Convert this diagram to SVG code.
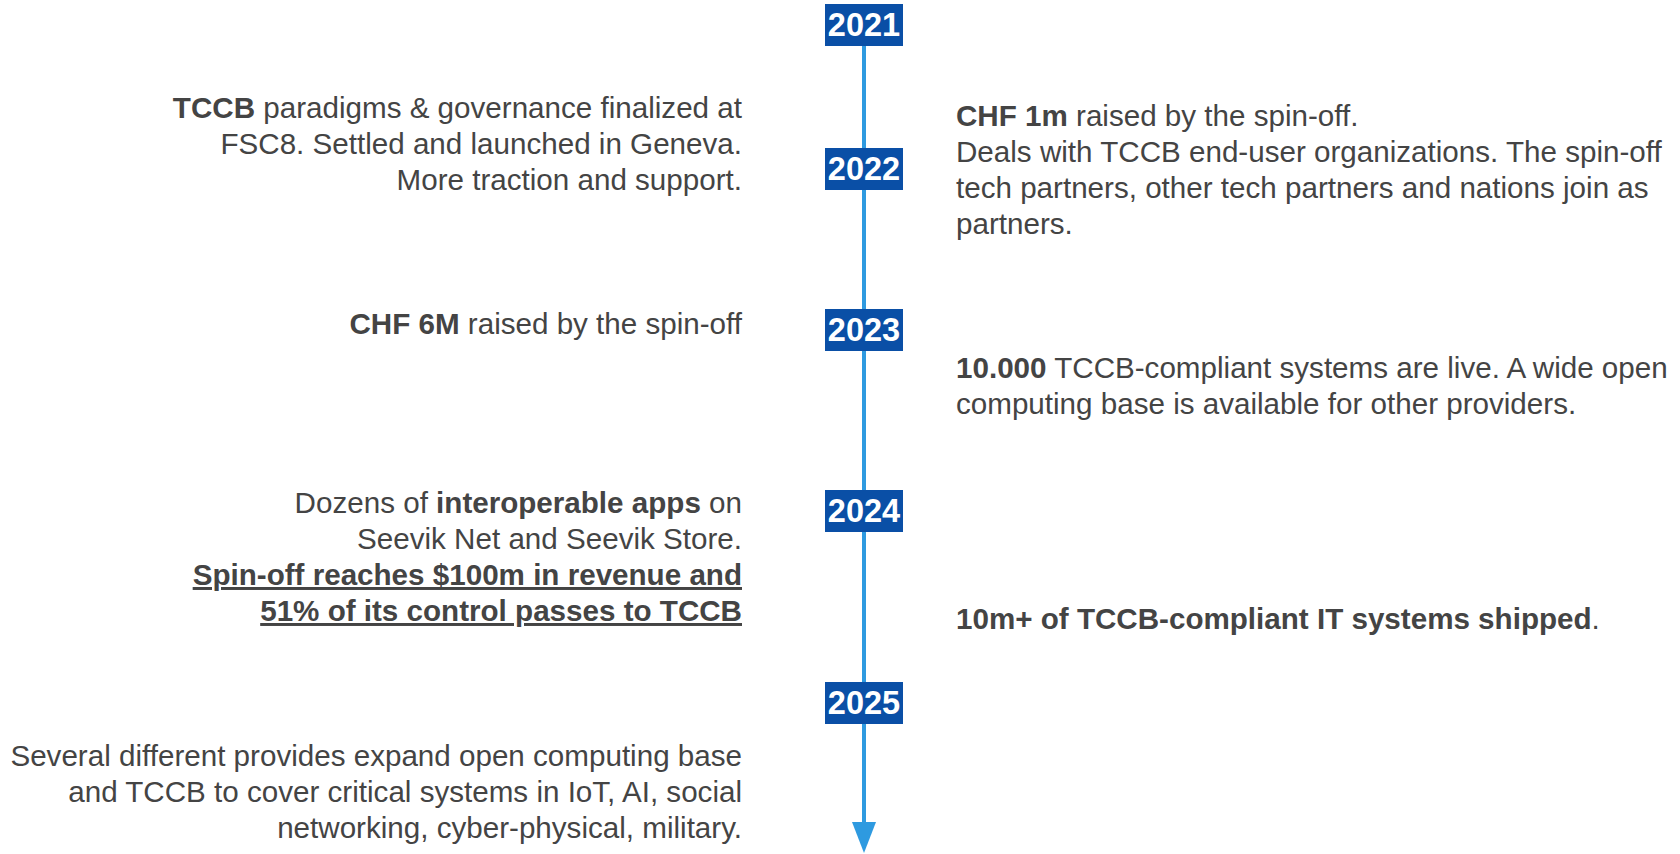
<svg xmlns="http://www.w3.org/2000/svg" width="1680" height="854" viewBox="0 0 1680 854">
  <style>
    .txt { font-family: "Liberation Sans", Arial, Helvetica, sans-serif; font-size: 29.6px; fill: #444444; }
    .l { text-anchor: end; }
    .b { font-weight: bold; }
    .u { text-decoration: underline; }
    .yr rect { fill: #0A4FA6; }
    .yr text { font-family: "Liberation Sans", Arial, Helvetica, sans-serif; font-size: 32.5px; font-weight: bold; fill: #ffffff; text-anchor: middle; }
  </style>
  <rect width="1680" height="854" fill="#ffffff"/>

  <!-- timeline axis with arrowhead -->
  <g id="connectors">
    <line x1="864" y1="40" x2="864" y2="824" stroke="#2E9AE0" stroke-width="4"/>
    <path d="M852,822 L876,822 L864,853 Z" fill="#2E9AE0"/>
  </g>

  <!-- year markers -->
  <g id="y2021" class="yr"><rect x="825" y="4" width="78" height="42"/><text x="864" y="36">2021</text></g>
  <g id="y2022" class="yr"><rect x="825" y="148" width="78" height="42"/><text x="864" y="180">2022</text></g>
  <g id="y2023" class="yr"><rect x="825" y="309" width="78" height="42"/><text x="864" y="341">2023</text></g>
  <g id="y2024" class="yr"><rect x="825" y="490" width="78" height="42"/><text x="864" y="522">2024</text></g>
  <g id="y2025" class="yr"><rect x="825" y="682" width="78" height="42"/><text x="864" y="714">2025</text></g>

  <!-- left column events -->
  <g id="left2021">
    <text class="txt l" x="742" y="118"><tspan class="b">TCCB</tspan> paradigms &amp; governance finalized at</text>
    <text class="txt l" x="742" y="154">FSC8. Settled and launched in Geneva.</text>
    <text class="txt l" x="742" y="190">More traction and support.</text>
  </g>
  <g id="left2023">
    <text class="txt l" x="742" y="334"><tspan class="b">CHF 6M</tspan> raised by the spin-off</text>
  </g>
  <g id="left2024">
    <text class="txt l" x="742" y="513">Dozens of <tspan class="b">interoperable apps</tspan> on</text>
    <text class="txt l" x="742" y="549">Seevik Net and Seevik Store.</text>
    <text class="txt l b u" x="742" y="585">Spin-off reaches $100m in revenue and</text>
    <text class="txt l b u" x="742" y="621">51% of its control passes to TCCB</text>
  </g>
  <g id="left2025">
    <text class="txt l" x="742" y="766">Several different provides expand open computing base</text>
    <text class="txt l" x="742" y="802">and TCCB to cover critical systems in IoT, AI, social</text>
    <text class="txt l" x="742" y="838">networking, cyber-physical, military.</text>
  </g>

  <!-- right column events -->
  <g id="right2022">
    <text class="txt" x="956" y="126"><tspan class="b">CHF 1m</tspan> raised by the spin-off.</text>
    <text class="txt" x="956" y="162">Deals with TCCB end-user organizations. The spin-off</text>
    <text class="txt" x="956" y="198">tech partners, other tech partners and nations join as</text>
    <text class="txt" x="956" y="234">partners.</text>
  </g>
  <g id="right2023">
    <text class="txt" x="956" y="378"><tspan class="b">10.000</tspan> TCCB-compliant systems are live. A wide open</text>
    <text class="txt" x="956" y="414">computing base is available for other providers.</text>
  </g>
  <g id="right2024">
    <text class="txt" x="956" y="629"><tspan class="b">10m+ of TCCB-compliant IT systems shipped</tspan>.</text>
  </g>
</svg>
